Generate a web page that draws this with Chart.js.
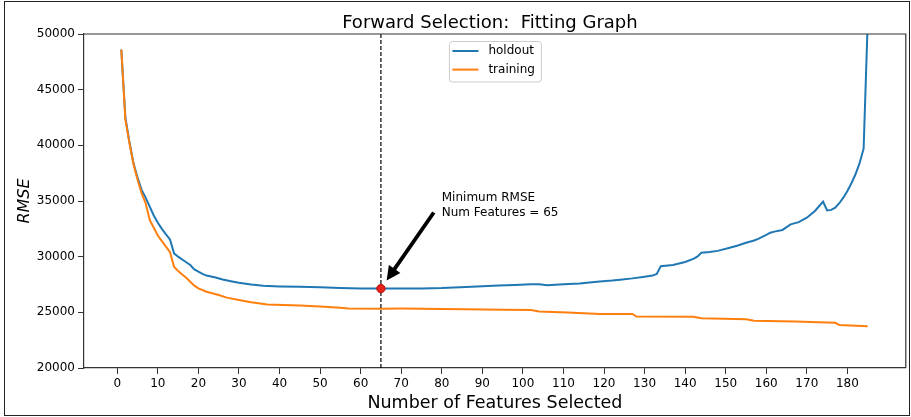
<!DOCTYPE html>
<html>
<head>
<meta charset="utf-8">
<script src="https://cdn.jsdelivr.net/npm/chart.js@4/dist/chart.umd.min.js"></script>
<style>
  html, body { margin: 0; padding: 0; background: #fff; }
  #wrap { position: relative; width: 911px; height: 417px; overflow: hidden; }
  #wrap canvas { position: absolute; left: 0; top: 0; }
  #frame { position: absolute; left: 4px; top: 1px; width: 906px; height: 415px;
           box-sizing: border-box; border: 1px solid #222; pointer-events: none; }
</style>
</head>
<body>
<div id="wrap">
  <canvas id="chart" width="911" height="417"></canvas>
  <div id="frame"></div>
</div>
<script>
// RMSE against number of selected features (forward selection)
const holdoutX = [1,2,3,4,5,6,7,8,9,10,11,12,13,14,15,16,17,18,19,20,21,22,24,26,28,30,33,36,40,45,50,55,60,65,
  70,75,80,86,90,94,98,102,104,106,108,110,114,117,119,122,124,127,130,132,133,134,137,140,142,143,144,146,148,
  151,153,155,157,158,160,161,162,164,166,168,170,172,174,175,176,177,178,179,180,181,182,183,184,185];
const holdoutRmse = [48600,42500,40300,38400,37100,36000,35300,34500,33700,33050,32500,32000,31550,30300,30000,
  29750,29500,29250,28850,28650,28450,28300,28150,27950,27800,27650,27500,27380,27330,27300,27250,27180,27150,27130,
  27140,27150,27180,27280,27340,27420,27460,27520,27520,27430,27480,27520,27600,27700,27780,27850,27930,28050,28200,
  28300,28450,29150,29250,29520,29800,30000,30350,30420,30520,30800,31000,31250,31450,31600,31950,32150,32250,32400,
  32900,33100,33500,34100,34950,34150,34200,34400,34800,35300,35900,36600,37400,38400,39700,51000];

const trainingX = [1,2,3,4,5,6,7,8,9,10,11,12,13,14,15,16,17,18,19,20,22,25,27,30,33,37,45,50,55,57,65,70,80,86,
  95,102,104,111,119,127,128,142,144,155,157,167,177,178,185];
const trainingRmse = [48600,42300,40200,38300,36900,35700,34800,33300,32600,31900,31400,30900,30400,29100,28700,
  28400,28100,27750,27400,27150,26850,26550,26320,26100,25900,25700,25620,25520,25420,25340,25330,25340,25300,25270,
  25240,25210,25070,24980,24860,24850,24620,24600,24470,24380,24240,24170,24060,23870,23760];

const seriesNames = ['holdout', 'training'];
const xTicks = [0,10,20,30,40,50,60,70,80,90,100,110,120,130,140,150,160,170,180];
const yTicks = [20000,25000,30000,35000,40000,45000,50000];

const titleText = 'Forward Selection:  Fitting Graph';
const xTitle = 'Number of Features Selected';
const yTitle = 'RMSE';

// best holdout point
let bestIdx = 0;
holdoutRmse.forEach((v, i) => { if (v < holdoutRmse[bestIdx]) bestIdx = i; });
const bestX = holdoutX[bestIdx];
const bestVal = holdoutRmse[bestIdx];
const noteAt = [80, 35000];
const noteLines = ['Minimum RMSE', 'Num Features = ' + bestX];

const BLUE = '#1f77b4', ORANGE = '#ff7f0e', AXIS = '#333333';
const FONT = '"DejaVu Sans", sans-serif';

const pts = (xs, ys) => xs.map((x, i) => ({ x, y: ys[i] }));

const decorations = {
  id: 'decorations',
  afterDatasetsDraw(chart) {
    const { ctx, chartArea: a, scales: { x, y } } = chart;
    ctx.save();

    // top and right frame of the plot area
    ctx.strokeStyle = AXIS;
    ctx.lineWidth = 1.2;
    ctx.beginPath();
    ctx.moveTo(a.left, a.top);
    ctx.lineTo(a.right, a.top);
    ctx.lineTo(a.right, a.bottom);
    ctx.stroke();

    // annotation arrow pointing at the minimum
    const px = x.getPixelForValue(bestX), py = y.getPixelForValue(bestVal);
    const tx = x.getPixelForValue(noteAt[0]), ty = y.getPixelForValue(noteAt[1]);
    const dx = tx - px, dy = ty - py, L = Math.hypot(dx, dy);
    const ux = dx / L, uy = dy / L, nx = -uy, ny = ux;
    const tipX = px + ux * 10, tipY = py + uy * 10;
    const tailX = tx - ux * 14, tailY = ty - uy * 14;
    const hl = 14, hw = 7, sw = 1.9;
    const hx = tipX + ux * hl, hy = tipY + uy * hl;
    ctx.fillStyle = '#000';
    ctx.beginPath();
    ctx.moveTo(tipX, tipY);
    ctx.lineTo(hx + nx * hw, hy + ny * hw);
    ctx.lineTo(hx + nx * sw, hy + ny * sw);
    ctx.lineTo(tailX + nx * sw, tailY + ny * sw);
    ctx.lineTo(tailX - nx * sw, tailY - ny * sw);
    ctx.lineTo(hx - nx * sw, hy - ny * sw);
    ctx.lineTo(hx - nx * hw, hy - ny * hw);
    ctx.closePath();
    ctx.fill();

    ctx.font = '12px ' + FONT;
    ctx.textAlign = 'left';
    ctx.textBaseline = 'alphabetic';
    ctx.fillText(noteLines[0], tx, ty);
    ctx.fillText(noteLines[1], tx, ty + 15);

    // legend box, upper centre
    const bw = 92, bh = 40.5;
    const bx = (a.left + a.right) / 2 - bw / 2, by = a.top + 7;
    ctx.beginPath();
    ctx.roundRect(bx + 0.5, by + 0.5, bw, bh, 3);
    ctx.fillStyle = 'rgba(255,255,255,0.8)';
    ctx.fill();
    ctx.strokeStyle = '#cccccc';
    ctx.lineWidth = 1;
    ctx.stroke();
    const colors = [BLUE, ORANGE];
    ctx.textBaseline = 'middle';
    seriesNames.forEach((name, i) => {
      const ry = by + 10 + i * 18.6;
      ctx.strokeStyle = colors[i];
      ctx.lineWidth = 2;
      ctx.beginPath();
      ctx.moveTo(bx + 3.5, ry);
      ctx.lineTo(bx + 29.5, ry);
      ctx.stroke();
      ctx.fillStyle = '#000';
      ctx.fillText(name, bx + 39.5, ry);
    });
    ctx.restore();
  },
  afterDraw(chart) {
    const { ctx, chartArea: a } = chart;
    ctx.save();
    ctx.fillStyle = '#000';
    ctx.textAlign = 'center';
    ctx.textBaseline = 'alphabetic';
    const cx = (a.left + a.right) / 2;
    ctx.font = '18px ' + FONT;
    ctx.fillText(titleText, cx - 5, 28);
    ctx.font = '17.5px ' + FONT;
    ctx.fillText(xTitle, cx, 408);
    ctx.translate(28.5, (a.top + a.bottom) / 2);
    ctx.rotate(-Math.PI / 2);
    ctx.font = 'italic 16px ' + FONT;
    ctx.fillText(yTitle, 0, 0);
    ctx.restore();
  }
};

new Chart(document.getElementById('chart'), {
  type: 'line',
  data: {
    datasets: [
      { label: 'best', type: 'scatter', data: [{ x: bestX, y: bestVal }], order: 0,
        pointRadius: 4.2, pointHoverRadius: 4.2, backgroundColor: '#e8201a', borderColor: '#b5120c', borderWidth: 1 },
      { label: 'cut', data: [{ x: bestX, y: yTicks[0] }, { x: bestX, y: yTicks[yTicks.length - 1] }], order: 1,
        borderColor: '#000', borderWidth: 1.2, borderDash: [4, 2], pointRadius: 0 },
      { label: seriesNames[1], data: pts(trainingX, trainingRmse), order: 2,
        borderColor: ORANGE, borderWidth: 2, pointRadius: 0, tension: 0 },
      { label: seriesNames[0], data: pts(holdoutX, holdoutRmse), order: 3,
        borderColor: BLUE, borderWidth: 2, pointRadius: 0, tension: 0 }
    ]
  },
  options: {
    responsive: false,
    animation: false,
    devicePixelRatio: 1,
    events: [],
    layout: { padding: { top: 34, right: 5, left: 0, bottom: 0 } },
    plugins: { legend: { display: false }, title: { display: false }, tooltip: { enabled: false } },
    scales: {
      x: {
        type: 'linear', min: -8.2, max: 194.4,
        afterBuildTicks: s => { s.ticks = xTicks.map(v => ({ value: v })); },
        afterFit: s => { s.height = 49; },
        ticks: { font: { family: FONT, size: 12 }, color: '#000', padding: 3, maxRotation: 0, autoSkip: false,
                 callback: v => String(v) },
        grid: { drawOnChartArea: false, drawTicks: true, tickLength: 6, tickColor: AXIS, tickWidth: 1 },
        border: { display: true, color: AXIS, width: 1.2 }
      },
      y: {
        type: 'linear', min: yTicks[0], max: yTicks[yTicks.length - 1],
        afterBuildTicks: s => { s.ticks = yTicks.map(v => ({ value: v })); },
        afterFit: s => { s.width = 84; },
        ticks: { font: { family: FONT, size: 12 }, color: '#000', padding: 3, callback: v => String(v) },
        grid: { drawOnChartArea: false, drawTicks: true, tickLength: 6, tickColor: AXIS, tickWidth: 1 },
        border: { display: true, color: AXIS, width: 1.2 }
      }
    }
  },
  plugins: [decorations]
});
</script>
</body>
</html>
